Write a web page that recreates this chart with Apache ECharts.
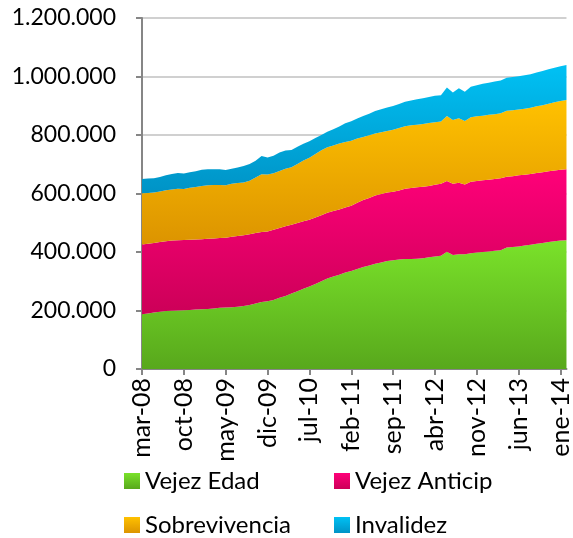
<!DOCTYPE html>
<html>
<head>
<meta charset="utf-8">
<script src="https://cdn.jsdelivr.net/npm/echarts@6/dist/echarts.min.js"></script>
<style>
  html, body { margin: 0; padding: 0; background: #fff; }
  #chart { width: 573px; height: 538px; }
</style>
</head>
<body>
<div id="chart"></div>
<script>
// monthly, mar-08 .. feb-14
const monthNames = ['ene', 'feb', 'mar', 'abr', 'may', 'jun', 'jul', 'ago', 'sep', 'oct', 'nov', 'dic']
const startYear = 2008
const startMonth = 2 // mar
const monthCount = 72

const vejezEdad = [
  187, 190, 193, 196, 198, 199, 200, 201, 202, 203, 204, 205,
  207, 209, 210, 211, 213, 215, 219, 224, 229, 232, 236, 244,
  250, 258, 266, 274, 282, 291, 300, 309, 316, 322, 330, 335,
  342, 349, 354, 360, 364, 369, 372, 374, 376, 376, 377, 379,
  382, 385, 387, 401, 390, 392, 392, 396, 398, 400, 402, 404,
  406, 415, 417, 419, 422, 425, 428, 431, 434, 437, 439, 440
]
const vejezAnticip = [
  239, 238, 238, 238, 239, 240, 240, 240, 240, 240, 240, 240,
  239, 239, 239, 241, 242, 242, 242, 241, 239, 238, 240, 238,
  238, 235, 233, 231, 228, 227, 226, 225, 224, 223, 222, 223,
  226, 229, 231, 233, 234, 234, 234, 236, 240, 243, 244, 244,
  244, 245, 246, 242, 243, 245, 239, 244, 245, 245, 245, 246,
  246, 242, 242, 243, 242, 242, 242, 242, 242, 242, 242, 243
]
const sobrevivencia = [
  175, 174, 172, 173, 174, 175, 176, 174, 178, 179, 182, 183,
  183, 181, 179, 181, 181, 181, 183, 190, 198, 195, 193, 195,
  197, 197, 202, 208, 212, 217, 222, 224, 224, 226, 224, 222,
  220, 215, 214, 212, 211, 211, 212, 214, 214, 214, 214, 215,
  215, 214, 213, 222, 218, 220, 217, 221, 221, 221, 222, 221,
  222, 226, 226, 225, 226, 226, 228, 229, 231, 233, 235, 237
]
const invalidez = [
  49, 49, 49, 49, 51, 53, 54, 53, 53, 54, 55, 55,
  54, 54, 52, 52, 53, 56, 57, 57, 62, 58, 60, 63,
  62, 59, 59, 57, 57, 55, 52, 53, 56, 58, 64, 67,
  68, 72, 74, 77, 79, 80, 81, 82, 84, 85, 87, 88,
  89, 90, 90, 97, 94, 103, 100, 104, 106, 109, 110, 112,
  112, 113, 113, 114, 114, 115, 116, 117, 118, 118, 119, 119
]

const categories = []
for (let i = 0; i < monthCount; i++) {
  const m = (startMonth + i) % 12
  const y = startYear + Math.floor((startMonth + i) / 12)
  categories.push(monthNames[m] + '-' + String(y % 100).padStart(2, '0'))
}

const seriesNames = ['Vejez Edad', 'Vejez Anticip', 'Sobrevivencia', 'Invalidez']
const seriesData = [vejezEdad, vejezAnticip, sobrevivencia, invalidez]
const gradTop = ['#7ae22a', '#ff0079', '#ffc100', '#00c1f4']
const gradBottom = ['#58a81c', '#cc0058', '#dc9400', '#0093c6']
const solid = ['#6cc824', '#ee0070', '#f0ae00', '#00acde']

const fontFamily = 'Lato, "Open Sans", sans-serif'

const fmt = v => String(v).replace(/\B(?=(\d{3})+(?!\d))/g, '.')

const grad = i => new echarts.graphic.LinearGradient(0, 0, 0, 1, [
  { offset: 0, color: gradTop[i] },
  { offset: 1, color: gradBottom[i] }
])

const legendPos = [
  { left: 124, top: 469 },
  { left: 334, top: 469 },
  { left: 124, top: 513 },
  { left: 334, top: 513 }
]

const chart = echarts.init(document.getElementById('chart'))

const option = {
  animation: false,
  grid: { left: 142, right: 1, top: 18, bottom: 169 },
  legend: seriesNames.map((name, i) => ({
    data: [{ name, itemStyle: { color: grad(i) } }],
    left: legendPos[i].left,
    top: legendPos[i].top,
    padding: 0,
    icon: 'rect',
    itemWidth: 16,
    itemHeight: 16,
    selectedMode: false,
    textStyle: { fontFamily, fontSize: 24, lineHeight: 24, color: '#000' }
  })),
  xAxis: {
    type: 'category',
    data: categories,
    boundaryGap: false,
    axisLine: { show: true, lineStyle: { color: '#868686', width: 2 } },
    axisTick: { show: true, interval: 6, length: 6, lineStyle: { color: '#868686', width: 2 } },
    axisLabel: {
      interval: 6,
      rotate: 90,
      margin: 9,
      fontFamily,
      fontSize: 25,
      color: '#000'
    },
    splitLine: { show: false }
  },
  yAxis: {
    type: 'value',
    min: 0,
    max: 1200000,
    interval: 200000,
    axisLine: { show: true, lineStyle: { color: '#868686', width: 2 } },
    axisTick: { show: true, length: 6, lineStyle: { color: '#868686', width: 2 } },
    axisLabel: {
      margin: 26,
      fontFamily,
      fontSize: 23,
      color: '#000',
      formatter: v => fmt(v)
    },
    splitLine: { show: true, lineStyle: { color: '#c0c0c0', width: 1.5 } }
  },
  series: seriesNames.map((name, i) => ({
    name,
    type: 'line',
    stack: 'total',
    data: seriesData[i].map(v => v * 1000),
    showSymbol: false,
    symbol: 'none',
    color: solid[i],
    lineStyle: { width: 0, opacity: 0 },
    areaStyle: { color: grad(i), opacity: 1 },
    emphasis: { disabled: true }
  }))
}

chart.setOption(option)
</script>
</body>
</html>
